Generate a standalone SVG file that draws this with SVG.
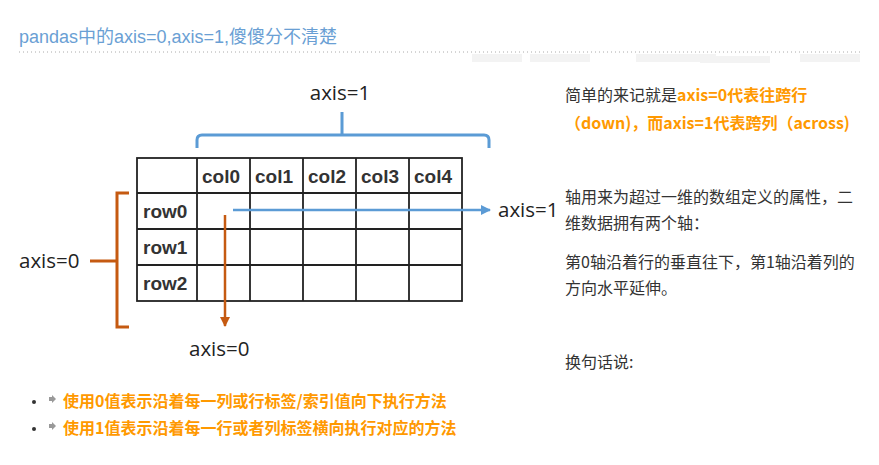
<svg xmlns="http://www.w3.org/2000/svg" width="879" height="465" viewBox="0 0 879 465">
<defs>
<style>
.t{font-family:"Liberation Sans","Noto Sans CJK SC",sans-serif}
.cell{font-family:"Liberation Sans",sans-serif;font-size:19px;font-weight:bold;fill:#333}
.ax{font-family:"Open Sans","Liberation Sans",sans-serif;font-size:20.5px;fill:#222}
.body{font-family:"Noto Sans CJK SC",sans-serif;font-size:16px;fill:#333}
.bl{font-family:"Noto Sans CJK SC",sans-serif;font-size:16px}
.or{fill:#ff9900;font-weight:bold}
.grid{stroke:#222;stroke-width:1.8;fill:none}
</style>
<marker id="ab" viewBox="0 0 10 10" refX="9" refY="5" markerWidth="4" markerHeight="4" orient="auto"><path d="M0,0L10,5L0,10z" fill="#5b9bd5"/></marker>
<marker id="ao" viewBox="0 0 10 10" refX="9" refY="5" markerWidth="4" markerHeight="4" orient="auto"><path d="M0,0L10,5L0,10z" fill="#c55a11"/></marker>
</defs>
<rect width="879" height="465" fill="#fff"/>
<text class="t" x="19" y="43" font-size="18" fill="#6a9fd4">pandas中的axis=0,axis=1,傻傻分不清楚</text>
<line x1="19" y1="52" x2="860" y2="52" stroke="#aaa" stroke-width="1" stroke-dasharray="1 3"/>
<g fill="#ddd" opacity="0.35">
<rect x="472" y="54" width="50" height="8"/><rect x="530" y="54" width="60" height="8"/><rect x="636" y="54" width="80" height="8"/><rect x="700" y="56" width="70" height="7"/><rect x="800" y="54" width="60" height="8"/>
</g>
<g id="table">
<rect x="137" y="158" width="325" height="143" class="grid"/>
<path class="grid" d="M197,158V301M250,158V301M303,158V301M356,158V301M409,158V301M137,193H462M137,229H462M137,265H462"/>
<text class="cell" x="202" y="183">col0</text>
<text class="cell" x="255" y="183">col1</text>
<text class="cell" x="308" y="183">col2</text>
<text class="cell" x="361" y="183">col3</text>
<text class="cell" x="414" y="183">col4</text>
<text class="cell" x="143" y="218">row0</text>
<text class="cell" x="143" y="254">row1</text>
<text class="cell" x="143" y="290">row2</text>
</g>
<g id="connectors" fill="none">
<path d="M197,148V140Q197,135 202,135H484Q489,135 489,140V148M342,112V135" stroke="#5b9bd5" stroke-width="3"/>
<line x1="233" y1="210" x2="490" y2="210" stroke="#5b9bd5" stroke-width="2.5" marker-end="url(#ab)"/>
<path d="M129,193H117V327H129M90,261H117" stroke="#c55a11" stroke-width="3"/>
<line x1="225" y1="215" x2="225" y2="326" stroke="#c55a11" stroke-width="2.5" marker-end="url(#ao)"/>
</g>
<g id="labels">
<text class="ax" x="340" y="100" text-anchor="middle">axis=1</text>
<text class="ax" x="498" y="217">axis=1</text>
<text class="ax" x="19" y="268">axis=0</text>
<text class="ax" x="189" y="356">axis=0</text>
</g>
<g id="right-text">
<text class="body" x="565" y="101">简单的来记就是<tspan class="or">axis=0代表往跨行</tspan></text>
<text class="body or" x="565" y="129">（down)，而axis=1代表跨列（across)</text>
<text class="body" x="565" y="203">轴用来为超过一维的数组定义的属性，二</text>
<text class="body" x="565" y="229">维数据拥有两个轴：</text>
<text class="body" x="565" y="268">第0轴沿着行的垂直往下，第1轴沿着列的</text>
<text class="body" x="565" y="294">方向水平延伸。</text>
<text class="body" x="565" y="368">换句话说:</text>
</g>
<g id="bullets">
<circle cx="34" cy="402" r="2" fill="#333"/>
<circle cx="34" cy="429" r="2" fill="#333"/>
<path d="M49,397h3v-2l4,4l-4,4v-2h-3z" fill="#999"/>
<path d="M49,424h3v-2l4,4l-4,4v-2h-3z" fill="#999"/>
<text class="bl or" x="63" y="407">使用0值表示沿着每一列或行标签/索引值向下执行方法</text>
<text class="bl or" x="63" y="434">使用1值表示沿着每一行或者列标签横向执行对应的方法</text>
</g>
</svg>
